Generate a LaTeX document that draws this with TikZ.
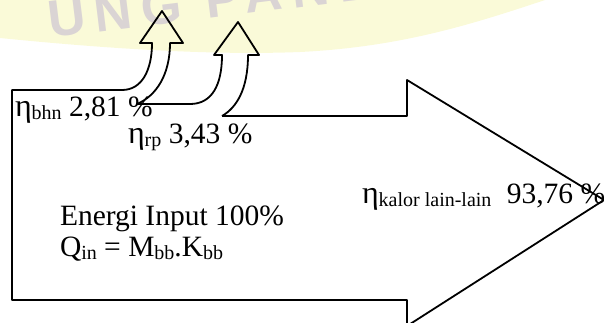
\documentclass[tikz,border=0pt]{standalone}
\usepackage{fontspec}
\setmainfont{Liberation Serif}
\newfontfamily\wmfont[LetterSpace=18]{Liberation Sans}
\definecolor{wmyellow}{RGB}{250,250,216}
\definecolor{wmgrey}{RGB}{218,212,212}
\newcommand\lowsub[1]{\raisebox{-3pt}{\fontsize{20}{20}\selectfont #1}}
\newcommand\etaG{{\fontsize{32}{32}\selectfont η}}
\begin{document}
\begin{tikzpicture}[x=1pt,y=-1pt,
  outline/.style={draw=black,line width=1.8pt,line join=round},
  lbl/.style={anchor=base west,inner sep=0pt,outer sep=0pt,font=\fontsize{29.5}{31}\selectfont},
  wmtext/.style={anchor=base west,inner sep=0pt,text=wmgrey,font=\wmfont\bfseries\fontsize{52}{52}\selectfont}
]
\useasboundingbox (0,0) rectangle (604,322);
\clip (0,0) rectangle (604,322);
% faint watermark band
\fill[wmyellow] (0,0) -- (545,0) .. controls (470,25) and (400,47) .. (300,52)
  .. controls (200,56) and (80,46) .. (0,38) -- cycle;
\node[wmtext,rotate=7] (wm) at (50,38) {UNG PANDA};
% energy flow outline
\draw[outline] (222,116) -- (407,116) -- (407,80) -- (604,200) -- (407,326)
  -- (407,300) -- (12,300) -- (12,90) -- (122,90)
  .. controls (142,90) and (152,70) .. (152,43)
  -- (140,43) -- (162,11) -- (183,43) -- (170,43)
  .. controls (170,75) and (156,96) .. (137,104)
  -- (190,104) .. controls (212,104) and (222,85) .. (222,55)
  -- (214,55) -- (238,22) -- (259,55) -- (248,55)
  .. controls (248,90) and (236,108) .. (222,116);
% labels
\node[lbl] (bhn) at (15,116) {\etaG\lowsub{bhn} 2,81 \%};
\node[lbl] (rp) at (128,143) {\etaG\lowsub{rp} 3,43 \%};
\node[lbl] (kalor) at (362,203) {\etaG\lowsub{kalor lain-lain}\hspace{8pt} 93,76 \%};
\node[lbl] (ein) at (60,225) {Energi Input 100\%};
\node[lbl] (qin) at (60,256) {Q\lowsub{in} = M\lowsub{bb}.K\lowsub{bb}};
\end{tikzpicture}
\end{document}
